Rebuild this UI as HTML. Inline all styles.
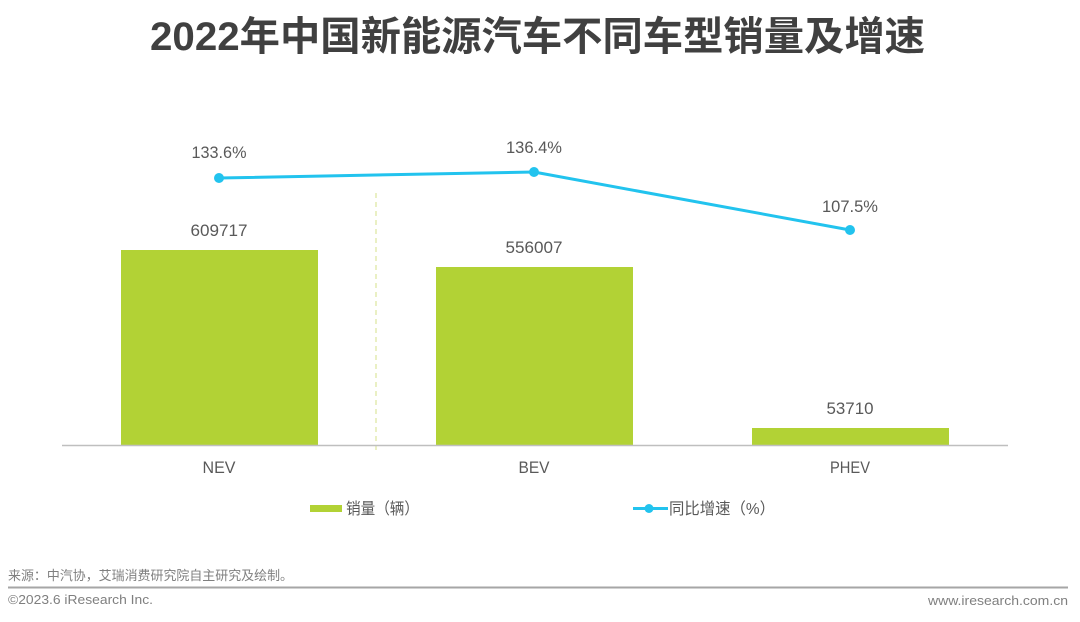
<!DOCTYPE html>
<html>
<head>
<meta charset="utf-8">
<style>
  html, body { margin:0; padding:0; background:#ffffff; }
  body { width:1080px; height:622px; overflow:hidden; }
  svg { display:block; }
  .t { font-family:"Liberation Sans","Noto Sans CJK SC",sans-serif; }
</style>
</head>
<body>
<svg width="1080" height="622" viewBox="0 0 1080 622" xmlns="http://www.w3.org/2000/svg">
  <rect width="1080" height="622" fill="#ffffff"/>

  <!-- Title -->
  <text class="t" x="150" y="50" font-size="40" font-weight="bold" fill="#404040" textLength="775" lengthAdjust="spacingAndGlyphs">2022年中国新能源汽车不同车型销量及增速</text>

  <!-- dashed separator -->
  <line x1="376" y1="193" x2="376" y2="450" stroke="#d6e08a" stroke-width="1" stroke-dasharray="5,4"/>

  <!-- bars -->
  <rect x="121" y="250" width="197" height="195.5" fill="#b2d235"/>
  <rect x="436" y="267" width="197" height="178.5" fill="#b2d235"/>
  <rect x="752" y="428" width="197" height="17.5" fill="#b2d235"/>

  <!-- axis -->
  <line x1="62" y1="445.5" x2="1008" y2="445.5" stroke="#bfbfbf" stroke-width="1.5"/>

  <!-- line series -->
  <polyline points="219,178 534,172 850,230" fill="none" stroke="#22c3ee" stroke-width="3" stroke-linejoin="round"/>
  <circle cx="219" cy="178" r="5" fill="#22c3ee"/>
  <circle cx="534" cy="172" r="5" fill="#22c3ee"/>
  <circle cx="850" cy="230" r="5" fill="#22c3ee"/>

  <!-- data labels -->
  <g class="t" font-size="17" fill="#595959" text-anchor="middle">
    <text x="219" y="158" textLength="55" lengthAdjust="spacingAndGlyphs">133.6%</text>
    <text x="534" y="153" textLength="56" lengthAdjust="spacingAndGlyphs">136.4%</text>
    <text x="850" y="212" textLength="56" lengthAdjust="spacingAndGlyphs">107.5%</text>
    <text x="219" y="236" textLength="57" lengthAdjust="spacingAndGlyphs">609717</text>
    <text x="534" y="253" textLength="57" lengthAdjust="spacingAndGlyphs">556007</text>
    <text x="850" y="414" textLength="47" lengthAdjust="spacingAndGlyphs">53710</text>
    <text x="219" y="473" textLength="33" lengthAdjust="spacingAndGlyphs">NEV</text>
    <text x="534" y="473" textLength="31" lengthAdjust="spacingAndGlyphs">BEV</text>
    <text x="850" y="473" textLength="40" lengthAdjust="spacingAndGlyphs">PHEV</text>
  </g>

  <!-- legend -->
  <rect x="310" y="505" width="32" height="7" fill="#b2d235"/>
  <text class="t" x="346" y="514" font-size="16" fill="#595959" textLength="73" lengthAdjust="spacingAndGlyphs">销量（辆）</text>
  <line x1="633" y1="508.5" x2="668" y2="508.5" stroke="#22c3ee" stroke-width="3"/>
  <circle cx="649" cy="508.5" r="4.5" fill="#22c3ee"/>
  <text class="t" x="669" y="514" font-size="16" fill="#595959" textLength="106" lengthAdjust="spacingAndGlyphs">同比增速（%）</text>

  <!-- footer -->
  <text class="t" x="8" y="580" font-size="13" fill="#7f7f7f" textLength="285" lengthAdjust="spacingAndGlyphs">来源：中汽协，艾瑞消费研究院自主研究及绘制。</text>
  <line x1="8" y1="587.5" x2="1068" y2="587.5" stroke="#a6a6a6" stroke-width="2"/>
  <text class="t" x="8" y="604" font-size="13" fill="#7f7f7f" textLength="145" lengthAdjust="spacingAndGlyphs">©2023.6 iResearch Inc.</text>
  <text class="t" x="1068" y="605" font-size="13" fill="#7f7f7f" text-anchor="end" textLength="140" lengthAdjust="spacingAndGlyphs">www.iresearch.com.cn</text>
</svg>
</body>
</html>
